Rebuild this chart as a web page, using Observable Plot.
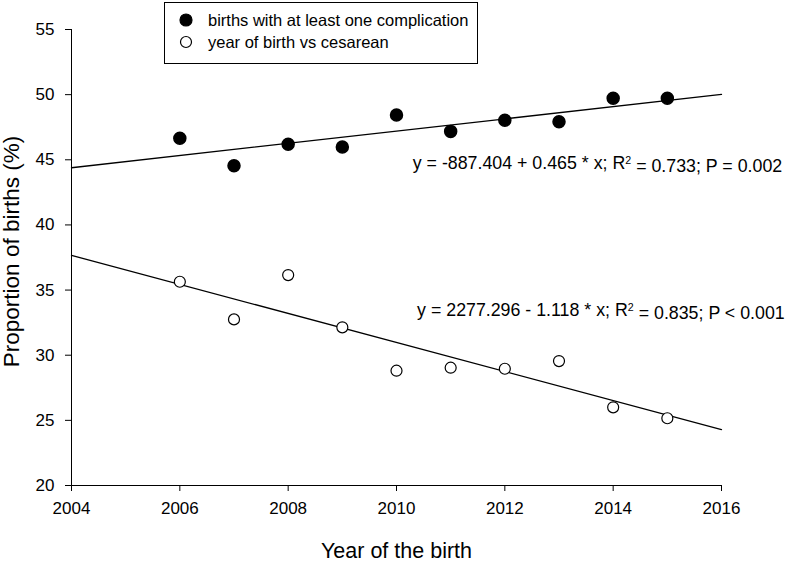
<!DOCTYPE html>
<html><head><meta charset="utf-8">
<script src="https://cdn.jsdelivr.net/npm/d3@7"></script>
<script src="https://cdn.jsdelivr.net/npm/@observablehq/plot@0.6"></script>
<style>
body{margin:0;background:#fff;}
#wrap{position:relative;width:787px;height:561px;font-family:"Liberation Sans",Arial,sans-serif;}
#legend{position:absolute;left:164px;top:2px;width:314px;height:62px;border:1px solid #000;background:#fff;box-sizing:border-box;font-size:16.5px;color:#000;}
.row{position:absolute;left:0;height:20px;display:flex;align-items:center;}
.row svg{margin-left:14px;margin-right:15px;}
</style></head><body>
<div id="wrap"><div id="chart"></div><div id="legend"></div></div>
<script>
const years = [2006, 2007, 2008, 2009, 2010, 2011, 2012, 2013, 2014, 2015];
const complication = [46.65, 44.54, 46.2, 45.98, 48.43, 47.18, 48.03, 47.92, 49.72, 49.72];
const cesarean = [35.64, 32.75, 36.15, 32.14, 28.81, 29.04, 28.96, 29.55, 26.0, 25.16];
const seriesNames = ["births with at least one complication", "year of birth vs cesarean"];
const equations = ["y = -887.404 + 0.465 * x; R² = 0.733; P = 0.002", "y = 2277.296 - 1.118 * x; R² = 0.835; P < 0.001"];
const equationX = [2010.3, 2010.38];
const equationY = [44.75, 33.47];
const xTicks = [2004, 2006, 2008, 2010, 2012, 2014, 2016];
const yTicks = [20, 25, 30, 35, 40, 45, 50, 55];
const xDomain = [2004, 2016];
const yDomain = [20, 55];

function fit(xs, ys) {
  const mx = d3.mean(xs), my = d3.mean(ys);
  const b = d3.sum(xs, (x, i) => (x - mx) * (ys[i] - my)) / d3.sum(xs, x => (x - mx) ** 2);
  const a = my - b * mx;
  return xDomain.map(x => ({x, y: a + b * x}));
}
const compData = years.map((year, i) => ({year, value: complication[i]}));
const cesData = years.map((year, i) => ({year, value: cesarean[i]}));
const eqData = equations.map((text, i) => ({text, x: equationX[i], y: equationY[i]}));

const font = '"Liberation Sans", Arial, sans-serif';
const chart = Plot.plot({
  width: 787, height: 561,
  marginLeft: 71, marginRight: 66, marginTop: 29, marginBottom: 76,
  style: {fontFamily: font, fontSize: "17px", color: "#000", background: "#fff", overflow: "visible"},
  x: {domain: xDomain},
  y: {domain: yDomain},
  marks: [
    Plot.axisX({ticks: xTicks, tickFormat: d => String(d), tickSize: 6, tickPadding: 10, label: "Year of the birth", labelAnchor: "center", labelOffset: 72, labelArrow: "none", fontSize: 17}),
    Plot.axisY({ticks: yTicks, tickSize: 6, tickPadding: 11, label: "Proportion of births (%)", labelAnchor: "center", labelOffset: 68, labelArrow: "none", fontSize: 17}),
    Plot.ruleX([xDomain[0]], {stroke: "#000"}),
    Plot.ruleY([yDomain[0]], {stroke: "#000"}),
    Plot.line(fit(years, complication), {x: "x", y: "y", stroke: "#000", strokeWidth: 1.3}),
    Plot.line(fit(years, cesarean), {x: "x", y: "y", stroke: "#000", strokeWidth: 1.3}),
    Plot.dot(compData, {x: "year", y: "value", r: 6, fill: "#000", stroke: "#000"}),
    Plot.dot(cesData, {x: "year", y: "value", r: 5.5, fill: "#fff", stroke: "#000", strokeWidth: 1.2}),
    Plot.text(eqData, {x: "x", y: "y", text: "text", textAnchor: "start", lineAnchor: "middle", fontSize: 17.8, fill: "#000"})
  ]
});
document.getElementById("chart").appendChild(chart);

// axis titles larger
d3.select(chart).selectAll('g[aria-label="x-axis label"] text').attr("font-size", 21.5);
d3.select(chart).selectAll('g[aria-label="y-axis label"] text').attr("font-size", 22.5).attr("x", 6);

// superscript 2 in equations
d3.select(chart).selectAll("text").each(function() {
  const t = this.textContent;
  if (t.includes("R²") && this.childElementCount === 0) {
    const [pre, post] = t.split("R²");
    const el = d3.select(this);
    el.text(null);
    el.append("tspan").text(pre + "R");
    el.append("tspan").attr("dy", "-0.45em").attr("font-size", "0.6em").text("2");
    el.append("tspan").attr("dy", "0.45em").text(post);
  }
});

// legend
const legend = d3.select("#legend");
seriesNames.forEach((name, i) => {
  const row = legend.append("div").attr("class", "row").style("top", (7 + i * 22) + "px");
  const s = row.append("svg").attr("width", 14).attr("height", 14);
  s.append("circle").attr("cx", 7).attr("cy", 7).attr("r", i === 0 ? 6 : 5.5)
    .attr("fill", i === 0 ? "#000" : "#fff").attr("stroke", "#000").attr("stroke-width", 1.2);
  row.append("span").text(name);
});
</script>
</body></html>
